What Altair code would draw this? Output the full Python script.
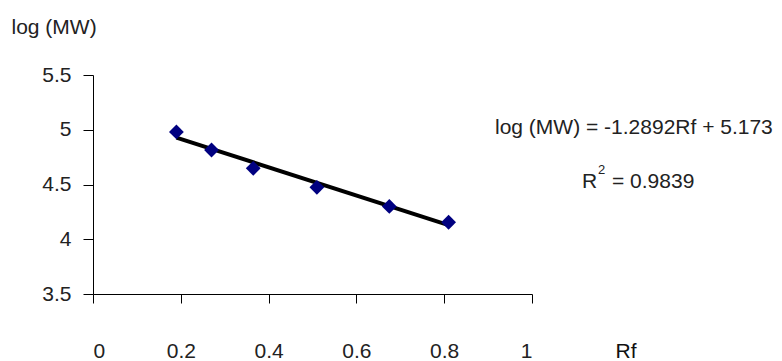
import altair as alt
import pandas as pd

rf = [0.19, 0.27, 0.365, 0.51, 0.675, 0.81]
logmw = [4.98, 4.815, 4.648, 4.474, 4.30, 4.155]
slope = -1.2892
intercept = 5.173

pts = pd.DataFrame({"Rf": rf, "logMW": logmw})
fit = pd.DataFrame({"Rf": [min(rf), max(rf)]})
fit["logMW"] = slope * fit["Rf"] + intercept

FONT = "Liberation Sans"
FS = 21
TXT = "#222"

xs = alt.Scale(domain=[0, 1], nice=False, zero=False)
ys = alt.Scale(domain=[3.5, 5.5], nice=False, zero=False)

xaxis = alt.Axis(values=[0, 0.2, 0.4, 0.6, 0.8, 1], format="~g", grid=False,
                 domainColor="black", tickColor="black", tickSize=9,
                 labelFont=FONT, labelFontSize=FS, labelColor=TXT,
                 labelPadding=37, title="Rf", titleFont=FONT, titleFontSize=FS,
                 titleFontWeight="normal", titleColor="#111", titleAngle=0,
                 titleAlign="left", titleBaseline="middle", titleX=522, titleY=57)
yaxis = alt.Axis(values=[3.5, 4, 4.5, 5, 5.5], format="~g", grid=False,
                 domainColor="black", tickColor="black", tickSize=10,
                 labelFont=FONT, labelFontSize=FS, labelColor=TXT,
                 labelPadding=12, title="log (MW)", titleFont=FONT, titleFontSize=FS,
                 titleFontWeight="normal", titleColor=TXT, titleAngle=0,
                 titleAlign="left", titleBaseline="middle", titleX=-82, titleY=-48)

line = alt.Chart(fit).mark_line(color="black", strokeWidth=4).encode(
    x=alt.X("Rf:Q", scale=xs, axis=xaxis),
    y=alt.Y("logMW:Q", scale=ys, axis=yaxis),
)
points = alt.Chart(pts).mark_point(shape="diamond", filled=True, color="#000080",
                                   size=220, opacity=1).encode(
    x=alt.X("Rf:Q", scale=xs),
    y=alt.Y("logMW:Q", scale=ys),
)

def label(t, x, y, fs=FS):
    return alt.Chart(pd.DataFrame({"t": [t]})).mark_text(
        font=FONT, fontSize=fs, color=TXT, align="left", baseline="middle"
    ).encode(text="t:N", x=alt.value(x), y=alt.value(y))

eq = label("log (MW) = -1.2892Rf + 5.173", 402, 53)
r2 = label("R", 489, 107)
sup = label("2", 505, 95, 13)
r2v = label("= 0.9839", 519, 107)

chart = alt.layer(line, points, eq, r2, sup, r2v).properties(
    width=439, height=219,
    autosize=alt.AutoSizeParams(type="none"),
    padding={"left": 93, "top": 75, "right": 250, "bottom": 67},
    background="white",
).configure_view(stroke=None)

chart.save("out.html", embed_options={"renderer": "svg", "actions": False})
